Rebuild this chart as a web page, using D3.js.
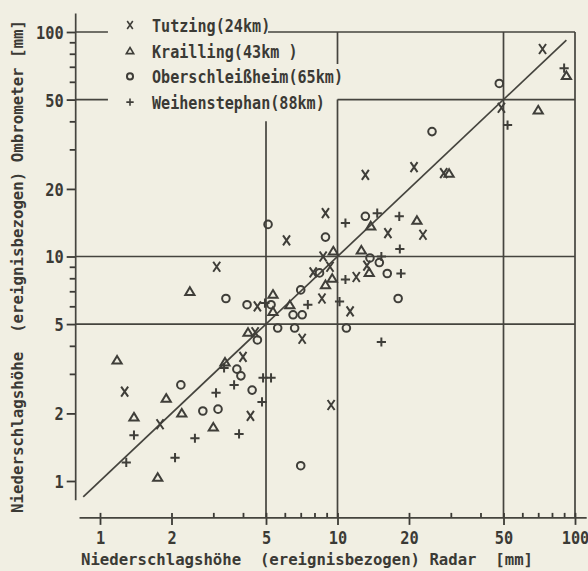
<!DOCTYPE html>
<meta charset="utf-8">
<style>
body { margin: 0; background: #f1efe3; }
svg { display: block; }
text { font-family: "DejaVu Sans Mono", monospace; font-weight: bold; fill: #3b3a35; }
.grid { stroke: #45443e; stroke-width: 1.7; fill: none; }
.mark { stroke: #3f3e39; stroke-width: 2; fill: none; stroke-linecap: butt; }
</style>
<body>
<svg id="chart" width="588" height="571"></svg>

<script src="https://cdn.jsdelivr.net/npm/d3@7"></script>
<script>

// legend / series names
var stations = ["Tutzing(24km)", "Krailling(43km )", "Oberschleißheim(65km)", "Weihenstephan(88km)"];
var symbols  = ["x", "triangle", "circle", "plus"];

// tick labels
var majorTicks = [1, 2, 5, 10, 20, 50, 100];
var minorTicks = [3, 4, 6, 7, 8, 9, 30, 40, 60, 70, 80, 90];

// Tutzing: radar vs ombrometer [mm]
var tutzingRadar = [73, 49, 21, 13.1, 28, 16.3, 22.9, 12, 11.3, 6.1, 8.9, 8.7, 9.3, 7.9, 8.6, 4.6, 4.5, 7.1, 3.1, 1.27, 1.79, 4.3, 4.0, 9.4, 13.3];
var tutzingOmbro = [84, 46, 25, 23.1, 23.5, 12.7, 12.5, 8.1, 5.7, 11.8, 15.6, 10, 9.0, 8.5, 6.5, 6.0, 4.6, 4.3, 9.0, 2.5, 1.79, 1.95, 3.57, 2.18, 9.1];

// Krailling
var kraillingRadar = [92, 70, 29.5, 21.6, 13.8, 12.6, 13.6, 9.6, 9.5, 8.9, 5.35, 5.35, 6.3, 4.2, 2.39, 1.18, 1.9, 1.39, 2.21, 3.0, 1.75, 3.36];
var kraillingOmbro = [64, 45, 23.5, 14.5, 13.7, 10.7, 8.5, 10.6, 8.0, 7.5, 6.8, 5.7, 6.1, 4.6, 7.0, 3.46, 2.34, 1.93, 2.01, 1.74, 1.04, 3.39];

// Oberschleissheim
var oberRadar = [48, 25, 13.1, 13.7, 15, 16.2, 18, 5.1, 8.9, 8.4, 7.0, 4.16, 5.25, 6.5, 7.1, 5.6, 6.6, 10.9, 4.6, 3.77, 3.92, 4.37, 2.19, 2.71, 3.14, 7.0, 3.39];
var oberOmbro = [59, 36, 15.1, 9.85, 9.4, 8.4, 6.5, 13.9, 12.2, 8.45, 7.1, 6.1, 6.1, 5.5, 5.5, 4.8, 4.8, 4.8, 4.25, 3.15, 2.94, 2.54, 2.68, 2.05, 2.09, 1.17, 6.5];

// Weihenstephan
var weihRadar = [90, 52, 14.7, 18.2, 10.8, 18.3, 15.3, 10.8, 18.5, 7.5, 10.2, 4.95, 15.3, 3.33, 3.67, 3.08, 4.86, 5.25, 4.81, 1.39, 2.51, 3.85, 1.29, 2.07];
var weihOmbro = [69, 38.5, 15.6, 15.1, 14.1, 10.8, 10.0, 7.9, 8.4, 6.1, 6.3, 6.2, 4.16, 3.19, 2.68, 2.47, 2.88, 2.88, 2.25, 1.6, 1.55, 1.62, 1.21, 1.27];

var radarSets = [tutzingRadar, kraillingRadar, oberRadar, weihRadar];
var ombroSets = [tutzingOmbro, kraillingOmbro, oberOmbro, weihOmbro];


var svg = d3.select("#chart");

var x = d3.scaleLog().domain([1, 100]).range([100, 575]);
var y = d3.scaleLog().domain([1, 100]).range([481, 32]);

// where the axes sit (in data units)
var xAxisAt = 0.685, yAxisAt = 0.79;

// grid lines with gaps for the legend
var hGrid = [[100, yAxisAt, 1.08], [100, 5.1, 100], [50, yAxisAt, 1.08], [50, 10, 100], [10, yAxisAt, 100], [5, yAxisAt, 100]];
var vGrid = [[5, xAxisAt, 40], [10, xAxisAt, 50], [10, 72, 100], [50, xAxisAt, 100], [100, xAxisAt, 100]];

svg.selectAll(".hgrid").data(hGrid).enter().append("line")
    .attr("class", "grid")
    .attr("x1", function(d) { return x(d[1]); })
    .attr("x2", function(d) { return x(d[2]); })
    .attr("y1", function(d) { return y(d[0]); })
    .attr("y2", function(d) { return y(d[0]); });

svg.selectAll(".vgrid").data(vGrid).enter().append("line")
    .attr("class", "grid")
    .attr("x1", function(d) { return x(d[0]); })
    .attr("x2", function(d) { return x(d[0]); })
    .attr("y1", function(d) { return y(d[1]); })
    .attr("y2", function(d) { return y(d[2]); });

// 1:1 line
svg.append("line").attr("class", "grid")
    .attr("x1", x(0.85)).attr("y1", y(0.85))
    .attr("x2", x(92)).attr("y2", y(92));

// axes
var allTicks = majorTicks.concat(minorTicks);
function isMajor(d) { return majorTicks.indexOf(d) >= 0; }

var gx = svg.append("g")
    .attr("transform", "translate(0," + y(xAxisAt) + ")")
    .style("color", "#3b3a35")
    .call(d3.axisBottom(x).tickValues(allTicks).tickSizeOuter(0)
        .tickFormat(function(d) { return isMajor(d) ? d : ""; }));
gx.select(".domain").remove();
gx.selectAll(".tick line")
    .attr("stroke-width", 1.8)
    .attr("y1", -5)
    .attr("y2", function(d) { return isMajor(d) ? 7 : 0; });
gx.selectAll(".tick text")
    .attr("y", 26).attr("dy", 0)
    .attr("transform", "scale(0.85,1)")
    .style("font-size", "18px");

var gy = svg.append("g")
    .attr("transform", "translate(" + x(yAxisAt) + ",0)")
    .style("color", "#3b3a35")
    .call(d3.axisLeft(y).tickValues(allTicks).tickSizeOuter(0)
        .tickFormat(function(d) { return isMajor(d) ? d : ""; }));
gy.select(".domain").remove();
gy.selectAll(".tick line")
    .attr("stroke-width", 1.8)
    .attr("x2", function(d) { return isMajor(d) ? -9 : -6; });
gy.selectAll(".tick text")
    .attr("x", -12 / 0.85).attr("dy", "0.36em")
    .attr("transform", "scale(0.85,1)")
    .style("font-size", "18px");

// axis lines
svg.append("line").attr("class", "grid").attr("stroke-width", 2)
    .attr("x1", x(0.82)).attr("x2", x(112)).attr("y1", y(xAxisAt)).attr("y2", y(xAxisAt));
svg.append("line").attr("class", "grid").attr("stroke-width", 2)
    .attr("x1", x(yAxisAt)).attr("x2", x(yAxisAt)).attr("y1", y(0.82)).attr("y2", y(121));

// axis titles
svg.append("text")
    .attr("x", 81).attr("y", 565)
    .attr("textLength", 452).attr("lengthAdjust", "spacingAndGlyphs")
    .style("font-size", "16px").style("white-space", "pre")
    .text("Niederschlagshöhe  (ereignisbezogen) Radar  [mm]");

svg.append("text")
    .attr("transform", "translate(23,513) rotate(-90)")
    .attr("textLength", 493).attr("lengthAdjust", "spacingAndGlyphs")
    .style("font-size", "16px").style("white-space", "pre")
    .text("Niederschlagshöhe  (ereignisbezogen) Ombrometer [mm]");

// markers
function drawSymbol(g, kind, s) {
    if (kind == "circle") {
        g.append("circle").attr("class", "mark").attr("r", 3.8 * s);
        return;
    }
    var p;
    if (kind == "x") p = "M-3.5,-5L3.5,5M3.5,-5L-3.5,5";
    if (kind == "triangle") p = "M0,-4L4.6,3.6L-4.6,3.6Z";
    if (kind == "plus") p = "M-4.6,0H4.6M0,-4.6V4.6";
    g.append("path").attr("class", "mark").attr("d", p)
        .attr("transform", "scale(" + s + ")");
}

for (var i = 0; i < stations.length; i++) {
    var pts = radarSets[i].map(function(r, j) { return [r, ombroSets[i][j]]; });
    svg.selectAll(".pt" + i).data(pts).enter().append("g")
        .attr("class", "pt" + i)
        .attr("transform", function(d) { return "translate(" + x(d[0]) + "," + y(d[1]) + ")"; })
        .each(function() { drawSymbol(d3.select(this), symbols[i], 1); });
}

// legend
var legend = svg.selectAll(".leg").data(stations).enter().append("g")
    .attr("class", "leg")
    .attr("transform", function(d, i) { return "translate(130," + (25 + i * 25.7) + ")"; });
legend.each(function(d, i) { drawSymbol(d3.select(this), symbols[i], 0.8); });
legend.append("text")
    .attr("x", 22 / 0.84).attr("y", 7)
    .attr("transform", "scale(0.84,1)")
    .style("font-size", "18px")
    .text(function(d) { return d; });

</script>
</body>
